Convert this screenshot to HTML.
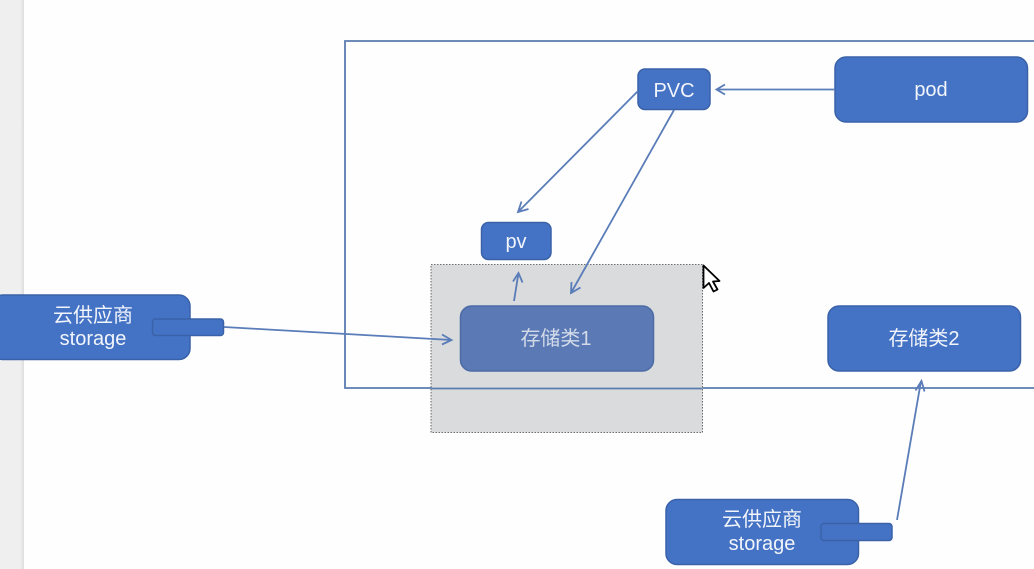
<!DOCTYPE html>
<html>
<head>
<meta charset="utf-8">
<style>
html,body{margin:0;padding:0;background:#fefefe;width:1034px;height:569px;overflow:hidden}
svg{display:block;filter:blur(0.35px)}
text{font-family:"Liberation Sans","Noto Sans CJK SC",sans-serif;fill:#f2f5fb;text-anchor:middle;font-size:20px}
</style>
</head>
<body>
<svg width="1034" height="569" viewBox="0 0 1034 569" xmlns="http://www.w3.org/2000/svg">
<defs>
<linearGradient id="side" x1="0" x2="1" y1="0" y2="0"><stop offset="0" stop-color="#efefef"/><stop offset="0.85" stop-color="#efefef"/><stop offset="1" stop-color="#dcdcdc"/></linearGradient>
</defs>
<rect x="0" y="0" width="1034" height="569" fill="#fefefe"/>
<rect x="0" y="0" width="24" height="569" fill="url(#side)"/>

<!-- big frame -->
<path d="M1034 41H345V388H1034" fill="none" stroke="#5a7cb0" stroke-width="1.800"/>

<!-- pod -->
<rect x="835" y="57" width="192.500" height="65" rx="11" fill="#4472c4" stroke="#3a62a8" stroke-width="1.500"/>
<text x="931" y="96">pod</text>

<!-- PVC -->
<rect x="638" y="69" width="72" height="40.500" rx="7" fill="#4472c4" stroke="#3a62a8" stroke-width="1.500"/>
<text x="674" y="97">PVC</text>

<!-- pv -->
<rect x="481.500" y="222.500" width="69.500" height="37" rx="7" fill="#4472c4" stroke="#3a62a8" stroke-width="1.500"/>
<text x="516" y="248">pv</text>

<!-- storage class 2 -->
<rect x="828" y="306" width="192.500" height="65" rx="11" fill="#4472c4" stroke="#3a62a8" stroke-width="1.500"/>
<text x="924" y="345">存储类2</text>

<!-- selection region -->
<rect x="431" y="264.500" width="271.500" height="168" fill="#d9dbdc" stroke="#444" stroke-width="0.800" stroke-dasharray="1.500 1.500"/>
<line x1="431" y1="388.500" x2="702" y2="388.500" stroke="#5a7cb0" stroke-width="1.800"/>

<!-- storage class 1 -->
<rect x="460.500" y="306" width="193" height="65" rx="11" fill="#5b7ab5" stroke="#4c6ba6" stroke-width="1.500"/>
<text x="556" y="345" style="fill:#d3dbe9">存储类1</text>

<!-- left provider -->
<rect x="-8" y="295" width="198" height="64.500" rx="11" fill="#4472c4" stroke="#3a62a8" stroke-width="1.500"/>
<text x="93" y="322">云供应商</text>
<text x="93" y="345">storage</text>
<rect x="152.500" y="319" width="71" height="16.500" rx="3" fill="#4472c4" stroke="#3a62a8" stroke-width="1.500"/>

<!-- bottom provider -->
<rect x="666" y="499.500" width="192.500" height="65" rx="11" fill="#4472c4" stroke="#3a62a8" stroke-width="1.500"/>
<text x="762" y="526">云供应商</text>
<text x="762" y="550">storage</text>
<rect x="821" y="523.500" width="71" height="17" rx="3" fill="#4472c4" stroke="#3a62a8" stroke-width="1.500"/>

<!-- connectors -->
<g fill="none" stroke="#5a7cb8" stroke-width="1.800">
<line x1="835" y1="89.500" x2="717" y2="89.500"/>
<path d="M725 84.500L716.500 89.500L725 94.500"/>
<line x1="638" y1="91" x2="518" y2="212"/>
<path d="M528.500 209L518 212L521.500 201.500"/>
<line x1="674" y1="110" x2="571" y2="293"/>
<path d="M580.500 287.500L571 293L571.500 282"/>
<line x1="514" y1="301" x2="518.500" y2="273"/>
<path d="M513 281.500L518.500 273L522.500 282.500"/>
<line x1="224" y1="327" x2="451" y2="340"/>
<path d="M442 334.500L451.500 340L442 344.500"/>
<line x1="897" y1="520" x2="921" y2="381"/>
<path d="M915.500 390.500L921.500 381L924.500 391.500"/>
</g>

<!-- cursor -->
<path d="M703.500 265.500V288L709 283L713.500 291.500L717.500 289.500L713 281.500L719.500 281Z" fill="#fff" stroke="#000" stroke-width="1.800" stroke-linejoin="round"/>
</svg>
</body>
</html>
